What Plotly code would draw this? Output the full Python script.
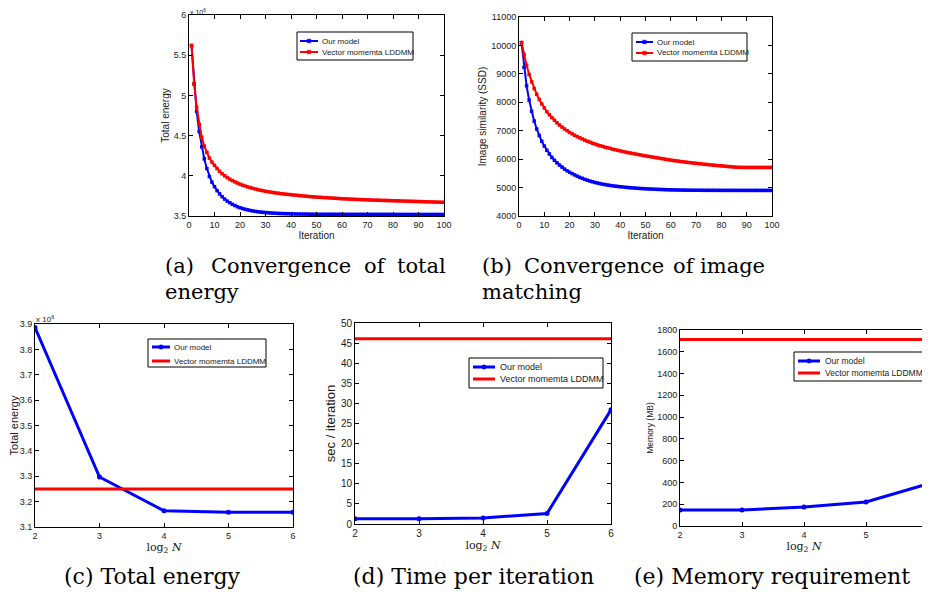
import plotly.graph_objects as go

# The page body adds an 8px margin, so the figure is drawn 8px in from the
# window corner; size it so it exactly fills the 930x595 window.
OFF = 8
W, H = 930 - OFF, 595 - OFF

# ---------------- data ----------------
iterations = list(range(1, 101))

# (a) total energy (x 10^6)
a_our = [5.62, 5.14, 4.80, 4.55, 4.36, 4.21, 4.09, 3.99, 3.92, 3.865,
         3.815, 3.775, 3.74, 3.71, 3.685, 3.665, 3.645, 3.63, 3.615, 3.603,
         3.593, 3.584, 3.576, 3.569, 3.563, 3.558, 3.553, 3.549, 3.546, 3.543,
         3.540, 3.538, 3.536, 3.534, 3.532, 3.531, 3.530, 3.529, 3.528, 3.527,
         3.526, 3.525, 3.525, 3.524, 3.524, 3.523, 3.523, 3.522, 3.522, 3.522,
         3.521, 3.521, 3.521, 3.521, 3.521, 3.521, 3.521, 3.521, 3.521, 3.521,
         3.520, 3.520, 3.520, 3.520, 3.520, 3.520, 3.520, 3.520, 3.520, 3.520,
         3.520, 3.520, 3.520, 3.520, 3.520, 3.520, 3.520, 3.520, 3.520, 3.520,
         3.519, 3.519, 3.519, 3.519, 3.519, 3.519, 3.519, 3.519, 3.519, 3.519,
         3.519, 3.519, 3.519, 3.519, 3.519, 3.519, 3.519, 3.519, 3.519, 3.519]
a_vec = [5.62, 5.15, 4.85, 4.64, 4.48, 4.37, 4.29, 4.22, 4.17, 4.13,
         4.09, 4.055, 4.025, 4.00, 3.978, 3.958, 3.94, 3.924, 3.91, 3.896,
         3.884, 3.873, 3.862, 3.853, 3.844, 3.836, 3.828, 3.821, 3.814, 3.808,
         3.802, 3.797, 3.792, 3.787, 3.783, 3.779, 3.775, 3.771, 3.768, 3.765,
         3.761, 3.758, 3.755, 3.752, 3.749, 3.746, 3.743, 3.740, 3.738, 3.735,
         3.733, 3.731, 3.729, 3.727, 3.725, 3.723, 3.721, 3.719, 3.717, 3.715,
         3.713, 3.712, 3.710, 3.709, 3.707, 3.706, 3.704, 3.703, 3.702, 3.700,
         3.699, 3.698, 3.697, 3.696, 3.695, 3.694, 3.693, 3.692, 3.691, 3.690,
         3.689, 3.688, 3.687, 3.686, 3.685, 3.684, 3.683, 3.682, 3.681, 3.680,
         3.679, 3.678, 3.677, 3.676, 3.675, 3.674, 3.673, 3.672, 3.671, 3.670]

# (b) image similarity (SSD)
b_our = [10100, 9230, 8580, 8080, 7680, 7340, 7060, 6830, 6630, 6460,
         6310, 6180, 6060, 5960, 5870, 5790, 5720, 5650, 5590, 5540,
         5490, 5445, 5400, 5360, 5325, 5290, 5260, 5230, 5205, 5180,
         5160, 5140, 5120, 5105, 5090, 5075, 5062, 5050, 5040, 5030,
         5020, 5010, 5002, 4994, 4987, 4980, 4974, 4968, 4962, 4957,
         4952, 4948, 4944, 4940, 4936, 4932, 4929, 4926, 4923, 4920,
         4918, 4916, 4914, 4912, 4910, 4909, 4908, 4907, 4906, 4905,
         4905, 4904, 4904, 4903, 4903, 4903, 4902, 4902, 4902, 4902,
         4901, 4901, 4901, 4901, 4901, 4901, 4900, 4900, 4900, 4900,
         4900, 4900, 4900, 4900, 4900, 4900, 4900, 4900, 4900, 4900]
b_vec = [10100, 9680, 9300, 8980, 8720, 8480, 8280, 8100, 7940, 7800,
         7670, 7560, 7460, 7370, 7280, 7200, 7130, 7060, 7000, 6940,
         6890, 6840, 6790, 6750, 6710, 6670, 6630, 6600, 6560, 6530,
         6500, 6470, 6450, 6420, 6400, 6380, 6350, 6330, 6310, 6290,
         6270, 6250, 6230, 6215, 6200, 6180, 6165, 6150, 6130, 6115,
         6100, 6085, 6070, 6055, 6040, 6025, 6010, 5995, 5980, 5965,
         5952, 5940, 5928, 5916, 5905, 5894, 5883, 5872, 5862, 5852,
         5842, 5832, 5823, 5814, 5805, 5796, 5787, 5778, 5770, 5762,
         5754, 5746, 5738, 5730, 5723, 5716, 5712, 5710, 5708, 5708,
         5708, 5708, 5708, 5708, 5708, 5708, 5708, 5708, 5708, 5708]

# (c)-(e) versus log2 N
log2N = [2, 3, 4, 5, 6]
c_our = [3.886, 3.297, 3.164, 3.158, 3.158]      # x 10^6
c_vec = [3.250, 3.250, 3.250, 3.250, 3.250]
d_our = [1.3, 1.3, 1.5, 2.6, 28.4]
d_vec = [46.1, 46.1, 46.1, 46.1, 46.1]
e_our = [147, 147, 174, 220, 387]
e_vec = [1712, 1712, 1712, 1712, 1712]

names = ["Our model", "Vector momemta LDDMM"]
BLUE, RED = "#0000ff", "#ff0000"

# ---------------- helpers (window pixels -> paper) ----------------
def PX(x):
    return (x - OFF) / W

def PY(y):
    return 1 - (y - OFF) / H

def dx(l, r):
    return [PX(l), PX(r)]

def dy(t, b):
    return [PY(b), PY(t)]

SANS = "Liberation Sans, Arial, sans-serif"
SERIF = "DejaVu Serif, serif"
TXT = "#1a1a1a"

def axis(domain, rng, tickvals, ticktext, title, tsize, tfont=SANS, fsize=9, anchor=None):
    d = dict(domain=domain, range=rng, tickvals=tickvals, ticktext=ticktext,
             showline=True, linecolor="black", linewidth=1, mirror="ticks",
             ticks="inside", ticklen=4, tickcolor="black", showgrid=False,
             zeroline=False, automargin=False,
             tickfont=dict(family=SANS, size=fsize, color=TXT),
             title=dict(text=title, font=dict(family=tfont, size=tsize, color=TXT), standoff=2))
    if anchor:
        d["anchor"] = anchor
    return d

def fmt(v):
    return ("%.1f" % v).rstrip("0").rstrip(".")

fig = go.Figure()

def conv(x, y, name, color, xa, ya):
    fig.add_trace(go.Scatter(x=x, y=y, name=name, mode="lines+markers",
                             line=dict(color=color, width=2),
                             marker=dict(symbol="square", size=3.5, color=color),
                             xaxis=xa, yaxis=ya, showlegend=False))

def scal(x, y, name, color, xa, ya, markers):
    fig.add_trace(go.Scatter(x=x, y=y, name=name, mode="lines+markers" if markers else "lines",
                             line=dict(color=color, width=3),
                             marker=dict(size=5, color=color),
                             xaxis=xa, yaxis=ya, showlegend=False))

conv(iterations, a_our, names[0], BLUE, "x", "y")
conv(iterations, a_vec, names[1], RED, "x", "y")
conv(iterations, b_our, names[0], BLUE, "x2", "y2")
conv(iterations, b_vec, names[1], RED, "x2", "y2")
scal(log2N, c_our, names[0], BLUE, "x3", "y3", True)
scal(log2N, c_vec, names[1], RED, "x3", "y3", False)
scal(log2N, d_our, names[0], BLUE, "x4", "y4", True)
scal(log2N, d_vec, names[1], RED, "x4", "y4", False)
scal(log2N, e_our, names[0], BLUE, "x5", "y5", True)
scal(log2N, e_vec, names[1], RED, "x5", "y5", False)

it_ticks = list(range(0, 101, 10))
a_ticks = [3.5, 4, 4.5, 5, 5.5, 6]
b_ticks = list(range(4000, 11001, 1000))
c_ticks = [3.1, 3.2, 3.3, 3.4, 3.5, 3.6, 3.7, 3.8, 3.9]
d_ticks = list(range(0, 51, 5))
e_ticks = list(range(0, 1801, 200))
n_ticks = [2, 3, 4, 5, 6]

LOGN = "log<sub>2</sub> <i>N</i>"

fig.update_layout(
    width=W, height=H, autosize=False,
    margin=dict(l=0, r=0, t=0, b=0),
    paper_bgcolor="white", plot_bgcolor="white",
    showlegend=False,
    xaxis=axis(dx(189, 444), [0, 100], it_ticks, [str(t) for t in it_ticks], "Iteration", 10, anchor="y"),
    yaxis=axis(dy(15, 216), [3.5, 6], a_ticks, [fmt(t) for t in a_ticks], "Total energy", 10, anchor="x"),
    xaxis2=axis(dx(519, 772), [0, 100], it_ticks, [str(t) for t in it_ticks], "Iteration", 10, anchor="y2"),
    yaxis2=axis(dy(17, 216), [4000, 11000], b_ticks, [str(t) for t in b_ticks], "Image similarity (SSD)", 10, anchor="x2"),
    xaxis3=axis(dx(35, 293), [2, 6], n_ticks, [str(t) for t in n_ticks], LOGN, 11, tfont=SERIF, anchor="y3"),
    yaxis3=axis(dy(324, 527), [3.1, 3.9], c_ticks, [fmt(t) for t in c_ticks], "Total energy", 11, anchor="x3"),
    xaxis4=axis(dx(355, 611), [2, 6], n_ticks, [str(t) for t in n_ticks], LOGN, 11, tfont=SERIF, fsize=10, anchor="y4"),
    yaxis4=axis(dy(323, 524), [0, 50], d_ticks, [str(t) for t in d_ticks], "sec / iteration", 13, fsize=10, anchor="x4"),
    xaxis5=axis(dx(680, 928), [2, 6], n_ticks, [str(t) for t in n_ticks], LOGN, 11, tfont=SERIF, anchor="y5"),
    yaxis5=axis(dy(330, 526), [0, 1800], e_ticks, [str(t) for t in e_ticks], "Memory (MB)", 8.5, anchor="x5"),
)

shapes = []
ann = []

# MATLAB-style boxed legends: (box l, t, r, b), line x0, x1, text x, row ys, font size, marker style
legends = [
    ((297, 32, 413, 60), 300, 318, 320, (41, 52), 8, "sq"),
    ((632, 33, 747, 61), 636, 653, 655, (42, 53), 8, "sq"),
    ((148, 339, 266, 367), 152, 170, 172, (347, 361), 8, "dot"),
    ((469, 358, 603, 388), 473, 495, 498, (367, 379), 9, "dot"),
    ((794, 352, 924, 381), 798, 820, 823, (361, 373), 8.5, "dot"),
]
for (l, t, r, b), lx0, lx1, tx, rows, fs, mk in legends:
    shapes.append(dict(type="rect", xref="paper", yref="paper", x0=PX(l), x1=PX(r), y0=PY(b), y1=PY(t),
                       line=dict(color="black", width=1), fillcolor="white", layer="above"))
    for i, (yy, col) in enumerate(zip(rows, [BLUE, RED])):
        lw = 2 if mk == "sq" else 3
        shapes.append(dict(type="line", xref="paper", yref="paper", x0=PX(lx0), x1=PX(lx1),
                           y0=PY(yy), y1=PY(yy), line=dict(color=col, width=lw), layer="above"))
        if mk == "sq" or i == 0:
            cx = (lx0 + lx1) / 2
            s = 1.8 if mk == "sq" else 2.2
            shapes.append(dict(type="rect" if mk == "sq" else "circle", xref="paper", yref="paper",
                               x0=PX(cx - s), x1=PX(cx + s), y0=PY(yy + s), y1=PY(yy - s),
                               line=dict(color=col, width=0.5), fillcolor=col, layer="above"))
        ann.append(dict(x=PX(tx), y=PY(yy), xref="paper", yref="paper", xanchor="left", yanchor="middle",
                        text=names[i], showarrow=False, font=dict(family=SANS, size=fs, color=TXT)))

# x 10^6 multipliers
for (x, y, fs) in [(189, 17.5, 7), (35, 325, 8)]:
    ann.append(dict(x=PX(x), y=PY(y), xref="paper", yref="paper", xanchor="left", yanchor="bottom",
                    text="x 10<sup>6</sup>", showarrow=False, borderpad=0,
                    font=dict(family=SANS, size=fs, color=TXT)))

def word(text, x, y, anchor="left", size=21):
    return dict(x=PX(x), y=PY(y), xref="paper", yref="paper", xanchor=anchor, yanchor="middle",
                text=text, showarrow=False, font=dict(family=SERIF, size=size, color="black"))

# captions (a), (b): justified first lines
ann += [word("(a)", 163, 266), word("Convergence", 209, 266), word("of", 362, 266),
        word("total", 448, 266, "right"), word("energy", 163, 292)]
ann += [word("(b)", 480, 266), word("Convergence", 522, 266), word("of", 671, 266),
        word("image", 767, 266, "right"), word("matching", 480, 292)]
ann += [word("(c) Total energy", 152, 576, "center", 22),
        word("(d) Time per iteration", 473, 576, "center", 22),
        word("(e) Memory requirement", 772, 576, "center", 22)]

fig.update_layout(shapes=shapes, annotations=ann)

fig.write_html("out.html")
